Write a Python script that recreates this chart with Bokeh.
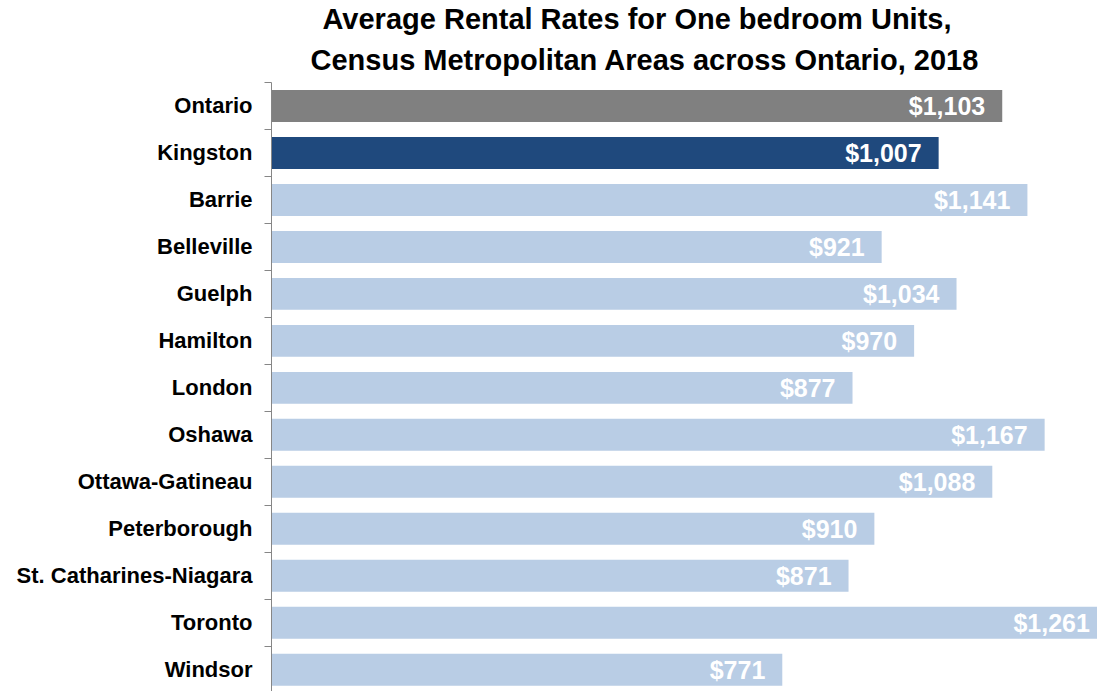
from bokeh.plotting import figure
from bokeh.models import Range1d, FixedTicker, ColumnDataSource, Title
from bokeh.core.properties import value
from bokeh.embed import file_html
from bokeh.resources import INLINE

# ---- data ----
cities = ["Ontario", "Kingston", "Barrie", "Belleville", "Guelph", "Hamilton",
          "London", "Oshawa", "Ottawa-Gatineau", "Peterborough",
          "St. Catharines-Niagara", "Toronto", "Windsor"]
rents = [1103, 1007, 1141, 921, 1034, 970, 877, 1167, 1088, 910, 871, 1261, 771]
bar_colors = ["#808080", "#1F497D"] + ["#B9CDE5"] * 11
title_lines = ["Average Rental Rates for One bedroom Units,",
               "Census Metropolitan Areas across Ontario, 2018"]

# ---- layout ----
W, H = 1097, 691
frame_left = 271
px_per_unit = 0.6625
band = 46.9
frame_top = 83
x_end = (W - frame_left) / px_per_unit
y_visible = (H - frame_top) / band

pos = list(range(len(cities)))
src = ColumnDataSource(dict(
    y=pos, rent=rents, color=bar_colors,
    label=[f"${r:,}" for r in rents],
))

FONT = "Liberation Sans"

p = figure(width=W, height=H, output_backend="svg", toolbar_location=None,
           x_range=Range1d(0, x_end),
           y_range=Range1d(-0.5 + y_visible, -0.5),
           x_axis_location=None, y_axis_location="left",
           min_border_left=frame_left, min_border_top=0,
           min_border_right=0, min_border_bottom=0)
p.outline_line_color = None
p.xgrid.visible = False
p.ygrid.visible = False
p.background_fill_color = "white"
p.border_fill_color = "white"

ax = p.yaxis[0]
ax.ticker = FixedTicker(ticks=pos, minor_ticks=[i - 0.5 for i in range(len(cities) + 1)])
ax.major_label_overrides = {i: c for i, c in enumerate(cities)}
ax.major_tick_out = 0
ax.major_tick_in = 0
ax.minor_tick_out = 7
ax.minor_tick_in = 0
ax.minor_tick_line_color = "#868686"
ax.axis_line_color = "#868686"
ax.major_label_standoff = 12
ax.major_label_text_font = FONT
ax.major_label_text_font_style = "bold"
ax.major_label_text_font_size = "22px"
ax.major_label_text_color = "black"

p.hbar(y="y", left=0, right="rent", height=0.68, fill_color="color",
       line_color=None, source=src)

p.text(x="rent", y="y", text="label", source=src, text_align="right",
       text_baseline="middle", x_offset=-17, text_color="white",
       text_font=value(FONT), text_font_style="bold", text_font_size="25px")

# title lines, left aligned with pixel offsets from the frame's left edge
title_offsets = [51, 39]
title_standoffs = [0, 14]
for line, off, so in zip(reversed(title_lines), reversed(title_offsets),
                         reversed(title_standoffs)):
    p.add_layout(Title(text=line, align="left", offset=off, text_font=FONT,
                       text_font_style="bold", text_font_size="29px",
                       text_color="black", standoff=so), "above")

open("out.html", "w").write(file_html(p, INLINE))
